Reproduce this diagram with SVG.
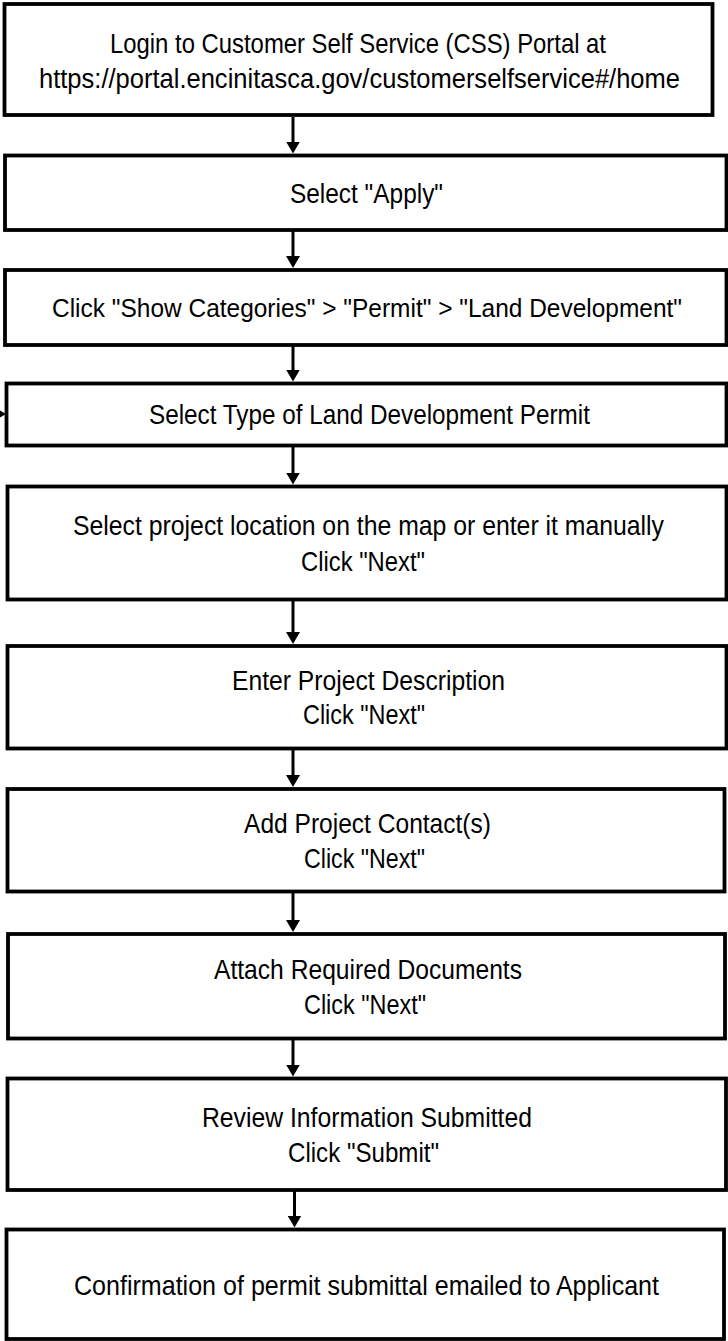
<svg xmlns="http://www.w3.org/2000/svg" width="728" height="1341" viewBox="0 0 728 1341">
<style>
  .box { fill: #ffffff; stroke: #000000; stroke-width: 3.8; }
  .lbl { font-family: "Liberation Sans", Arial, sans-serif; font-size: 27.5px; fill: #000000; }
  .sm { font-size: 25.5px; }
  .conn { stroke: #000000; stroke-width: 3; fill: none; }
</style>
<defs>
  <marker id="ah" viewBox="0 0 12 14" refX="2" refY="7" markerWidth="12" markerHeight="14" markerUnits="userSpaceOnUse" orient="auto">
    <path d="M0,0 L12,7 L0,14 z" fill="#000000"/>
  </marker>
</defs>
<rect x="0" y="0" width="728" height="1341" fill="#ffffff"/>

<g id="connectors">
  <line class="conn" x1="293" y1="117" x2="293" y2="143.5" marker-end="url(#ah)"/>
  <line class="conn" x1="293" y1="231" x2="293" y2="258" marker-end="url(#ah)"/>
  <line class="conn" x1="293" y1="346" x2="293" y2="371.5" marker-end="url(#ah)"/>
  <line class="conn" x1="293" y1="447" x2="293" y2="474.5" marker-end="url(#ah)"/>
  <line class="conn" x1="293" y1="601" x2="293" y2="634" marker-end="url(#ah)"/>
  <line class="conn" x1="293" y1="750" x2="293" y2="777" marker-end="url(#ah)"/>
  <line class="conn" x1="293" y1="893" x2="293" y2="922" marker-end="url(#ah)"/>
  <line class="conn" x1="293" y1="1040" x2="293" y2="1066.5" marker-end="url(#ah)"/>
  <line class="conn" x1="294.5" y1="1191" x2="294.5" y2="1217.5" marker-end="url(#ah)"/>
  <line class="conn" x1="-30" y1="414" x2="-4" y2="414" marker-end="url(#ah)"/>
</g>

<g id="n1">
  <rect class="box" x="4.5" y="4" width="708" height="111"/>
  <text class="lbl" x="110" y="53" textLength="496" lengthAdjust="spacingAndGlyphs">Login to Customer Self Service (CSS) Portal at</text>
  <text class="lbl" x="39" y="88" textLength="641" lengthAdjust="spacingAndGlyphs">https://portal.encinitasca.gov/customerselfservice#/home</text>
</g>

<g id="n2">
  <rect class="box" x="5" y="155.5" width="721.5" height="74.5"/>
  <text class="lbl" x="290" y="202.5" textLength="153" lengthAdjust="spacingAndGlyphs">Select "Apply"</text>
</g>

<g id="n3">
  <rect class="box" x="5" y="270" width="721.5" height="75"/>
  <text class="lbl sm" x="52" y="316.5" textLength="630" lengthAdjust="spacingAndGlyphs">Click "Show Categories" &gt; "Permit" &gt; "Land Development"</text>
</g>

<g id="n4">
  <rect class="box" x="6.5" y="383.5" width="720" height="62"/>
  <text class="lbl" x="149" y="424" textLength="441" lengthAdjust="spacingAndGlyphs">Select Type of Land Development Permit</text>
</g>

<g id="n5">
  <rect class="box" x="7.5" y="486.5" width="719" height="113"/>
  <text class="lbl" x="73" y="535" textLength="591" lengthAdjust="spacingAndGlyphs">Select project location on the map or enter it manually</text>
  <text class="lbl" x="301" y="570.5" textLength="124" lengthAdjust="spacingAndGlyphs">Click "Next"</text>
</g>

<g id="n6">
  <rect class="box" x="7.5" y="646" width="719" height="102.5"/>
  <text class="lbl" x="232" y="689.5" textLength="273" lengthAdjust="spacingAndGlyphs">Enter Project Description</text>
  <text class="lbl" x="303" y="724" textLength="122" lengthAdjust="spacingAndGlyphs">Click "Next"</text>
</g>

<g id="n7">
  <rect class="box" x="7.5" y="789" width="717" height="102.5"/>
  <text class="lbl" x="244" y="832.5" textLength="247" lengthAdjust="spacingAndGlyphs">Add Project Contact(s)</text>
  <text class="lbl" x="304" y="867.5" textLength="121" lengthAdjust="spacingAndGlyphs">Click "Next"</text>
</g>

<g id="n8">
  <rect class="box" x="8" y="934" width="717" height="104.5"/>
  <text class="lbl" x="214" y="979" textLength="308" lengthAdjust="spacingAndGlyphs">Attach Required Documents</text>
  <text class="lbl" x="304" y="1013.5" textLength="122" lengthAdjust="spacingAndGlyphs">Click "Next"</text>
</g>

<g id="n9">
  <rect class="box" x="7.5" y="1078.5" width="718.5" height="111.5"/>
  <text class="lbl" x="202" y="1127" textLength="330" lengthAdjust="spacingAndGlyphs">Review Information Submitted</text>
  <text class="lbl" x="288" y="1161.5" textLength="151" lengthAdjust="spacingAndGlyphs">Click "Submit"</text>
</g>

<g id="n10">
  <rect class="box" x="6.5" y="1229.5" width="717.5" height="109.5"/>
  <text class="lbl" x="74" y="1294.5" textLength="585" lengthAdjust="spacingAndGlyphs">Confirmation of permit submittal emailed to Applicant</text>
</g>
</svg>
